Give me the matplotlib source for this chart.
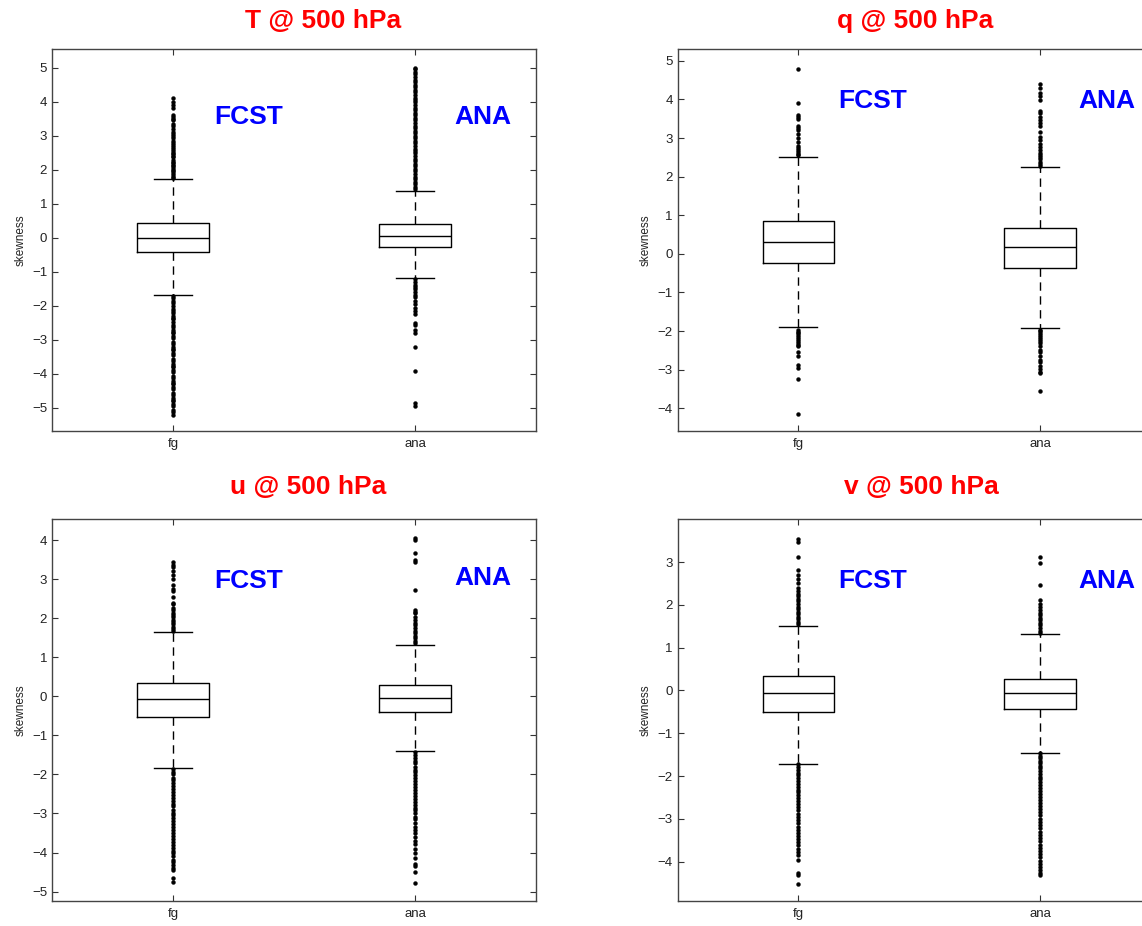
import matplotlib
matplotlib.use("Agg")
from matplotlib import pyplot as plt

plt.rcParams['font.family'] = ['Liberation Sans', 'DejaVu Sans']

W, H = 1142, 926

# box stats per group: lower whisker, q1, median, q3, upper whisker
T_FG = [-1.67, -0.41, 0.0, 0.43, 1.73]
T_ANA = [-1.19, -0.27, 0.06, 0.41, 1.37]
Q_FG = [-1.90, -0.24, 0.31, 0.86, 2.52]
Q_ANA = [-1.93, -0.36, 0.17, 0.68, 2.25]
U_FG = [-1.84, -0.54, -0.07, 0.33, 1.64]
U_ANA = [-1.40, -0.39, -0.05, 0.29, 1.32]
V_FG = [-1.71, -0.50, -0.07, 0.33, 1.51]
V_ANA = [-1.45, -0.43, -0.07, 0.26, 1.32]

# outliers
T_FG_OUT = [1.76, 1.8, 1.84, 1.9, 1.95, 2.0, 2.04, 2.1, 2.15, 2.2, 2.24, 2.3, 2.36, 2.4,
            2.45, 2.5, 2.55, 2.62, 2.66, 2.72, 2.78, 2.85, 2.92, 3.0, 3.05, 3.12, 3.2,
            3.3, 3.33, 3.45, 3.5, 3.55, 3.6, 3.8, 3.9, 4.0, 4.12,
            -1.72, -1.78, -1.85, -1.92, -2.0, -2.08, -2.15, -2.22, -2.3, -2.36, -2.4,
            -2.48, -2.55, -2.62, -2.7, -2.76, -2.8, -2.88, -2.95, -3.05, -3.12, -3.2,
            -3.26, -3.3, -3.38, -3.45, -3.55, -3.62, -3.7, -3.76, -3.8, -3.88, -3.95,
            -4.05, -4.12, -4.2, -4.26, -4.3, -4.38, -4.45, -4.55, -4.62, -4.7, -4.76,
            -4.8, -4.88, -4.95, -5.05, -5.12, -5.2]
T_ANA_OUT = [1.42, 1.5, 1.58, 1.65, 1.72, 1.8, 1.88, 1.95, 2.02, 2.1, 2.18, 2.25, 2.32,
             2.4, 2.48, 2.55, 2.62, 2.7, 2.78, 2.85, 2.92, 3.0, 3.08, 3.15, 3.22, 3.3,
             3.38, 3.45, 3.52, 3.6, 3.68, 3.75, 3.82, 3.9, 3.98, 4.05, 4.12, 4.2, 4.28,
             4.35, 4.42, 4.5, 4.58, 4.65, 4.72, 4.8, 4.88, 4.95, 5.0,
             -1.22, -1.3, -1.38, -1.45, -1.52, -1.6, -1.68, -1.75, -1.85, -1.95, -2.05,
             -2.15, -2.25, -2.5, -2.55, -2.72, -2.8, -3.2, -3.92, -4.86, -4.95]
Q_FG_OUT = [2.55, 2.6, 2.65, 2.7, 2.75, 2.8, 2.9, 3.0, 3.1, 3.2, 3.25, 3.3, 3.5, 3.55,
            3.6, 3.92, 4.8,
            -1.98, -2.02, -2.06, -2.1, -2.15, -2.2, -2.25, -2.3, -2.35, -2.4, -2.55,
            -2.65, -2.88, -2.95, -3.24, -4.15]
Q_ANA_OUT = [2.28, 2.32, 2.38, 2.45, 2.5, 2.55, 2.61, 2.7, 2.78, 2.85, 2.95, 3.04, 3.17,
             3.3, 3.4, 3.47, 3.55, 3.65, 3.7, 3.98, 4.1, 4.16, 4.3, 4.39,
             -1.97, -2.0, -2.05, -2.1, -2.15, -2.2, -2.25, -2.3, -2.4, -2.5, -2.55,
             -2.65, -2.75, -2.8, -2.9, -2.98, -3.05, -3.1, -3.55]
U_FG_OUT = [1.67, 1.72, 1.78, 1.84, 1.9, 1.96, 2.02, 2.08, 2.14, 2.2, 2.26, 2.35, 2.4,
            2.55, 2.7, 2.75, 2.85, 3.0, 3.1, 3.2, 3.3, 3.35, 3.44,
            -1.87, -1.94, -2.0, -2.08, -2.15, -2.22, -2.3, -2.38, -2.45, -2.52, -2.6,
            -2.68, -2.75, -2.82, -2.9, -2.98, -3.05, -3.12, -3.2, -3.28, -3.35, -3.42,
            -3.5, -3.58, -3.65, -3.72, -3.8, -3.88, -3.95, -4.02, -4.1, -4.18, -4.25,
            -4.32, -4.4, -4.45, -4.65, -4.75]
U_ANA_OUT = [1.36, 1.42, 1.48, 1.55, 1.62, 1.68, 1.75, 1.82, 1.88, 1.95, 2.04, 2.12,
             2.16, 2.21, 2.72, 3.44, 3.49, 3.67, 4.0, 4.04,
             -1.42, -1.5, -1.58, -1.65, -1.72, -1.8, -1.88, -1.95, -2.02, -2.1, -2.18,
             -2.25, -2.32, -2.4, -2.48, -2.55, -2.62, -2.7, -2.78, -2.85, -2.92, -3.0,
             -3.08, -3.15, -3.25, -3.35, -3.42, -3.5, -3.6, -3.7, -3.78, -3.9, -4.02,
             -4.15, -4.3, -4.35, -4.49, -4.78]
V_FG_OUT = [1.55, 1.6, 1.66, 1.72, 1.78, 1.84, 1.9, 1.96, 2.02, 2.08, 2.14, 2.2, 2.26,
            2.32, 2.4, 2.5, 2.6, 2.7, 2.81, 3.12, 3.47, 3.55,
            -1.72, -1.78, -1.85, -1.92, -1.98, -2.05, -2.12, -2.18, -2.25, -2.32, -2.38,
            -2.45, -2.52, -2.58, -2.65, -2.72, -2.8, -2.88, -2.95, -3.02, -3.1, -3.18,
            -3.25, -3.32, -3.4, -3.48, -3.55, -3.62, -3.7, -3.78, -3.85, -3.96, -4.26,
            -4.32, -4.53]
V_ANA_OUT = [1.34, 1.4, 1.46, 1.52, 1.58, 1.64, 1.7, 1.76, 1.82, 1.88, 1.95, 2.02,
             2.11, 2.46, 2.97, 3.12,
             -1.46, -1.52, -1.58, -1.64, -1.7, -1.76, -1.82, -1.88, -1.95, -2.02, -2.08,
             -2.15, -2.22, -2.28, -2.35, -2.42, -2.5, -2.56, -2.62, -2.7, -2.78, -2.85,
             -2.92, -3.0, -3.08, -3.15, -3.22, -3.3, -3.38, -3.45, -3.52, -3.6, -3.68,
             -3.75, -3.82, -3.9, -3.98, -4.05, -4.12, -4.2, -4.26, -4.31]

TITLES = ["T @ 500 hPa", "q @ 500 hPa", "u @ 500 hPa", "v @ 500 hPa"]
GROUPS = ["fg", "ana"]
YLIMS = [(-5.68, 5.54), (-4.59, 5.30), (-5.24, 4.53), (-4.92, 4.0)]
YTICKS = [range(-5, 6), range(-4, 6), range(-5, 5), range(-4, 4)]

panels = [
    (T_FG, T_FG_OUT, T_ANA, T_ANA_OUT),
    (Q_FG, Q_FG_OUT, Q_ANA, Q_ANA_OUT),
    (U_FG, U_FG_OUT, U_ANA, U_ANA_OUT),
    (V_FG, V_FG_OUT, V_ANA, V_ANA_OUT),
]

# axes boxes in pixels: left, top, right, bottom (right column runs past the edge)
boxes = [(52, 49.3, 536, 431), (677.5, 49.3, 1160.8, 431),
         (52, 519.3, 536, 901), (677.5, 519.3, 1160.8, 901)]
title_pos = [(323, 21), (915, 21), (308, 487), (921, 487)]
fcst_pos = [(248.5, 117), (872.5, 101), (248.5, 581), (872.5, 581)]
ana_pos = [(483, 117), (1106.5, 101), (483, 578), (1106.5, 581)]


def fx(x):
    return x / W


def fy(y):
    return 1 - y / H


fig = plt.figure(figsize=(W / 100, H / 100), dpi=100)

for i, (fg, fg_out, ana, ana_out) in enumerate(panels):
    l, t, r, b = boxes[i]
    ax = fig.add_axes([fx(l), fy(b), (r - l) / W, (b - t) / H])
    stats = []
    for name, s, out in [(GROUPS[0], fg, fg_out), (GROUPS[1], ana, ana_out)]:
        stats.append(dict(label=name, whislo=s[0], q1=s[1], med=s[2], q3=s[3],
                          whishi=s[4], fliers=out))
    ax.bxp(stats, positions=[1, 2], widths=0.295, capwidths=0.157,
           boxprops=dict(color='black', lw=1.0),
           medianprops=dict(color='black', lw=1.0),
           whiskerprops=dict(color='black', lw=1.0, linestyle=(0, (6, 4))),
           capprops=dict(color='black', lw=1.0),
           flierprops=dict(marker='o', markersize=2.8, markerfacecolor='black',
                           markeredgecolor='black', markeredgewidth=0.3))
    ax.set_xlim(0.5, 2.5)
    ax.set_ylim(*YLIMS[i])
    ax.set_yticks(list(YTICKS[i]))
    ax.set_xticks([1, 2])
    ax.set_xticklabels(GROUPS)
    ax.tick_params(direction='in', top=True, right=True, length=4, width=0.8,
                   labelsize=9.5, colors='#333333', labelcolor='#222222')
    ax.tick_params(axis='x', pad=5)
    for sp in ax.spines.values():
        sp.set_color('#444444')
        sp.set_linewidth(1.0)
    ax.set_ylabel("skewness", fontsize=8.5, color='#222222', labelpad=4)

    fig.text(fx(title_pos[i][0]), fy(title_pos[i][1]), TITLES[i], color='#ff0000',
             fontsize=19, fontweight='bold', ha='center', va='center')
    fig.text(fx(fcst_pos[i][0]), fy(fcst_pos[i][1]), "FCST", color='#0000ff',
             fontsize=19, fontweight='bold', ha='center', va='center')
    fig.text(fx(ana_pos[i][0]), fy(ana_pos[i][1]), "ANA", color='#0000ff',
             fontsize=19, fontweight='bold', ha='center', va='center')

fig.savefig("out.png", dpi=100)
